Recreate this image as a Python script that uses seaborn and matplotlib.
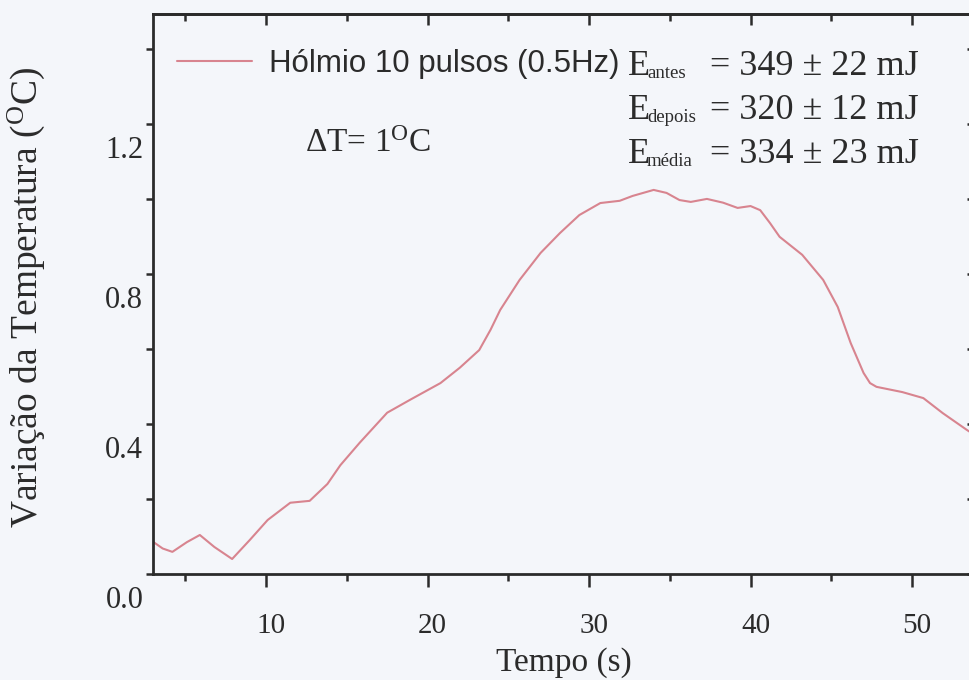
import matplotlib
matplotlib.use("Agg")
import matplotlib.pyplot as plt
import matplotlib.transforms as mtransforms
from matplotlib.ticker import MultipleLocator
import seaborn as sns
import pandas as pd

# ---- data ----
tempo = [3.0, 3.6, 4.2, 5.1, 5.9, 6.8, 7.9, 9.0, 10.1, 11.5, 12.7, 13.8, 14.6, 15.8,
         17.5, 18.9, 20.8, 22.0, 23.2, 23.9, 24.5, 25.7, 27.0, 28.2, 29.4, 30.7,
         31.9, 32.7, 34.0, 34.8, 35.6, 36.3, 37.3, 38.3, 39.2, 40.0, 40.6, 41.2,
         41.8, 43.2, 44.5, 45.4, 46.2, 47.0, 47.4, 47.8, 49.4, 50.7, 51.9, 53.4,
         53.9]
variacao = [0.086, 0.068, 0.059, 0.085, 0.104, 0.072, 0.040, 0.091, 0.144, 0.190,
            0.195, 0.240, 0.290, 0.350, 0.430, 0.464, 0.509, 0.550, 0.597, 0.651,
            0.704, 0.784, 0.856, 0.909, 0.957, 0.989, 0.995, 1.008, 1.024, 1.016,
            0.997, 0.992, 1.000, 0.990, 0.976, 0.981, 0.970, 0.936, 0.899, 0.851,
            0.784, 0.712, 0.616, 0.536, 0.509, 0.499, 0.485, 0.469, 0.429, 0.384,
            0.370]
serie_label = "Hólmio 10 pulsos (0.5Hz)"
energia_nomes = ["antes", "depois", "média"]
energia_valores = ["349 ± 22 mJ", "320 ± 12 mJ", "334 ± 23 mJ"]
x_ticks = [10, 20, 30, 40, 50]
y_ticks = [0.0, 0.4, 0.8, 1.2]

df = pd.DataFrame({"Tempo": tempo, "Variacao": variacao})

sns.set_theme(style="ticks")
plt.rcParams["font.family"] = ["Liberation Serif", "DejaVu Serif"]
plt.rcParams["mathtext.fontset"] = "custom"
plt.rcParams["mathtext.rm"] = "Liberation Serif"
plt.rcParams["mathtext.it"] = "Liberation Serif:italic"
plt.rcParams["mathtext.bf"] = "Liberation Serif:bold"

BG = "#f4f6fa"
INK = "#2b2b2b"
LINE = "#d8848f"

fig = plt.figure(figsize=(9.7, 6.8), dpi=100, facecolor=BG)
ax = fig.add_axes([153 / 970, 106 / 680, 822 / 970, 560 / 680])
ax.set_facecolor(BG)

sns.lineplot(data=df, x="Tempo", y="Variacao", ax=ax, color=LINE,
             linewidth=1.5, label=serie_label, sort=False)

ax.set_xlim(3, 53.9)
ax.set_ylim(0, 1.493)

for s in ax.spines.values():
    s.set_color(INK)
    s.set_linewidth(2.0)

ax.set_xticks(x_ticks)
ax.set_yticks(y_ticks)
ax.set_xticklabels([str(v) for v in x_ticks])
ax.set_yticklabels([f"{v:.1f}" for v in y_ticks])
ax.xaxis.set_minor_locator(MultipleLocator(5))
ax.yaxis.set_minor_locator(MultipleLocator(0.2))

ax.tick_params(axis="x", which="major", direction="out", length=9, width=1.8,
               colors=INK, labelsize=21, pad=19, top=False)
ax.tick_params(axis="x", which="minor", direction="out", length=5, width=1.8,
               colors=INK, top=False)
ax.tick_params(axis="y", which="both", direction="out", length=5, width=1.8,
               colors=INK, labelsize=22, pad=2, right=False)

# top and right ticks (inward)
secx = ax.secondary_xaxis("top")
secx.set_xticks(x_ticks)
secx.xaxis.set_minor_locator(MultipleLocator(5))
secx.tick_params(axis="x", which="major", direction="in", length=8, width=1.8,
                 colors=INK, labeltop=False)
secx.tick_params(axis="x", which="minor", direction="in", length=5, width=1.8,
                 colors=INK)
secx.spines["top"].set_linewidth(2.0)
secx.spines["top"].set_color(INK)
secy = ax.secondary_yaxis("right")
secy.set_yticks(y_ticks)
secy.yaxis.set_minor_locator(MultipleLocator(0.2))
secy.tick_params(axis="y", which="both", direction="in", length=6, width=1.8,
                 colors=INK, labelright=False)

# tick label offsets (as in the reference)
off_y = mtransforms.ScaledTranslation(0, -23 / 100, fig.dpi_scale_trans)
for lab in ax.get_yticklabels():
    lab.set_transform(lab.get_transform() + off_y)
off_x = mtransforms.ScaledTranslation(5 / 100, 0, fig.dpi_scale_trans)
for lab in ax.get_xticklabels():
    lab.set_transform(lab.get_transform() + off_x)

ax.set_xlabel("Tempo (s)", fontsize=24, color=INK)
ax.xaxis.set_label_coords(0.5, -(647 - 574) / 560)
ax.set_ylabel(r"Variação da Temperatura ($^{\rm O}$C)", fontsize=27, color=INK)
ax.yaxis.set_label_coords(-(153 - 47) / 822, (574 - 298) / 560)

leg = ax.legend(loc="center left", frameon=False,
                bbox_to_anchor=(177 / 970, 1 - 64 / 680),
                bbox_transform=fig.transFigure, borderpad=0, borderaxespad=0,
                handlelength=2.4, handletextpad=0.55,
                prop={"family": ["Liberation Sans", "DejaVu Sans"], "size": 22.5})
for t in leg.get_texts():
    t.set_color(INK)

# energy annotation
baselines = [75, 119, 163]
for nome, val, yb in zip(energia_nomes, energia_valores, baselines):
    fig.text(628 / 970, 1 - yb / 680, "E", fontsize=26, color=INK,
             ha="left", va="baseline")
    fig.text(647 / 970, 1 - (yb + 3) / 680, nome, fontsize=13.5, color=INK,
             ha="left", va="baseline")
    fig.text(710 / 970, 1 - yb / 680, "= " + val, fontsize=26, color=INK,
             ha="left", va="baseline")

fig.text(305 / 970, 1 - 152 / 680, r"ΔT= 1$^{\rm O}$C", fontsize=24,
         color=INK, ha="left", va="baseline")

fig.savefig("out.png", dpi=100, facecolor=BG)
